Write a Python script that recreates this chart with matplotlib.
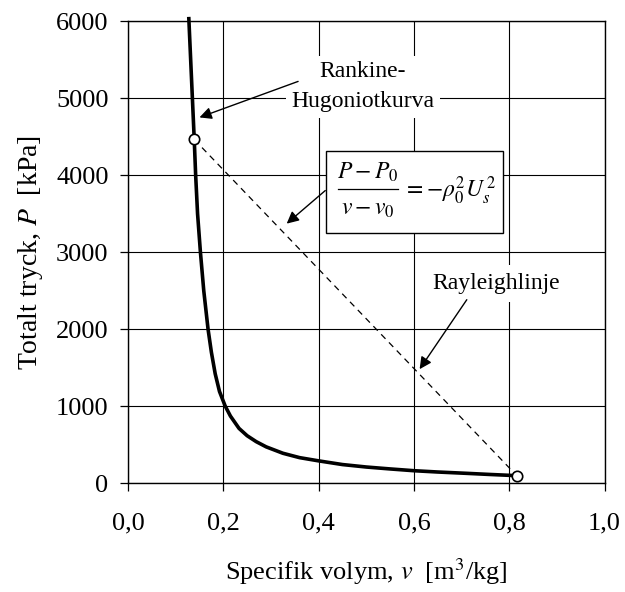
import matplotlib
matplotlib.use("Agg")
import matplotlib.pyplot as plt
from matplotlib.patches import Rectangle

plt.rcParams['font.family'] = ['Liberation Serif', 'DejaVu Serif']
plt.rcParams['mathtext.fontset'] = 'stix'

# Rankine-Hugoniot curve, specific volume [m3/kg] vs total pressure [kPa]
v_rh = [0.1275, 0.139, 0.142, 0.146, 0.152, 0.159, 0.168, 0.175, 0.183,
        0.192, 0.204, 0.215, 0.233, 0.25, 0.269, 0.29, 0.325, 0.36, 0.40,
        0.45, 0.50, 0.55, 0.60, 0.65, 0.71, 0.76, 0.80, 0.816]
p_rh = [6060, 4466, 4000, 3500, 3000, 2500, 2000, 1700, 1420,
        1190, 1000, 870, 710, 615, 538, 470, 387, 330, 288,
        240, 208, 183, 160, 143, 126, 111, 100, 95]

# end points of the Rayleigh line (shocked state and initial state)
v_ray = [0.139, 0.816]
p_ray = [4466, 95]

x_ticks = [0.0, 0.2, 0.4, 0.6, 0.8, 1.0]
x_labels = ['0,0', '0,2', '0,4', '0,6', '0,8', '1,0']
y_ticks = [0, 1000, 2000, 3000, 4000, 5000, 6000]

fig = plt.figure(figsize=(6.25, 5.92), dpi=100)
ax = fig.add_axes([0.2048, 0.1841, 0.7624, 0.7796])

ax.plot(v_rh, p_rh, color='black', lw=2.6, zorder=3, clip_on=False,
        solid_capstyle='butt', solid_joinstyle='round')
ax.plot(v_ray, p_ray, color='black', lw=0.9, ls=(0, (5, 4)), zorder=2)
ax.plot(v_ray, p_ray, ls='none', marker='o', ms=7.5, mfc='white',
        mec='black', mew=1.2, zorder=4, clip_on=False)

ax.set_xlim(0, 1.0)
ax.set_ylim(0, 6000)
ax.set_xticks(x_ticks)
ax.set_xticklabels(x_labels)
ax.set_yticks(y_ticks)
ax.tick_params(direction='out', length=6, width=0.9, labelsize=19)
ax.tick_params(axis='x', pad=15)
ax.tick_params(axis='y', pad=8)
ax.grid(True, color='black', lw=0.8)
ax.set_axisbelow(True)
for s in ax.spines.values():
    s.set_linewidth(1.0)

ax.set_xlabel(r'Specifik volym, $v$  [m$^3$/kg]', fontsize=19, labelpad=16)
ax.set_ylabel(r'Totalt tryck, $P$  [kPa]', fontsize=20, labelpad=8)

# labels with white background so the grid is hidden behind them
ax.text(0.493, 5150, 'Rankine-\nHugoniotkurva', fontsize=17, ha='center',
        va='center', linespacing=1.55, zorder=5,
        bbox=dict(facecolor='white', edgecolor='none', pad=4))
ax.text(0.773, 2591, 'Rayleighlinje', fontsize=17, ha='center',
        va='center', zorder=5,
        bbox=dict(facecolor='white', edgecolor='none', pad=6))

# Rayleigh line equation in a framed box
ax.add_patch(Rectangle((0.415, 3253), 0.371, 1067, facecolor='white',
                       edgecolor='black', lw=1.0, zorder=5))
eq = dict(fontsize=17, zorder=6)
ax.text(0.503, 3956, r'$P-P_0$', ha='center', va='baseline', **eq)
ax.plot([0.440, 0.566], [3826, 3826], color='black', lw=0.9, zorder=6)
ax.text(0.503, 3487, r'$v-v_0$', ha='center', va='baseline', **eq)
ax.text(0.577, 3800, r'$=-\rho_0^2U_s^{\,2}$', ha='left', va='center', **eq)

arrow = dict(arrowstyle='-|>', mutation_scale=18, color='black', lw=1.0,
             shrinkA=0, shrinkB=0)
ax.annotate('', xy=(0.150, 4753), xytext=(0.357, 5221), arrowprops=arrow,
            zorder=7)
ax.annotate('', xy=(0.333, 3372), xytext=(0.414, 3802), arrowprops=arrow,
            zorder=7)
ax.annotate('', xy=(0.612, 1480), xytext=(0.711, 2383), arrowprops=arrow,
            zorder=7)

fig.savefig('out.png', dpi=100)
